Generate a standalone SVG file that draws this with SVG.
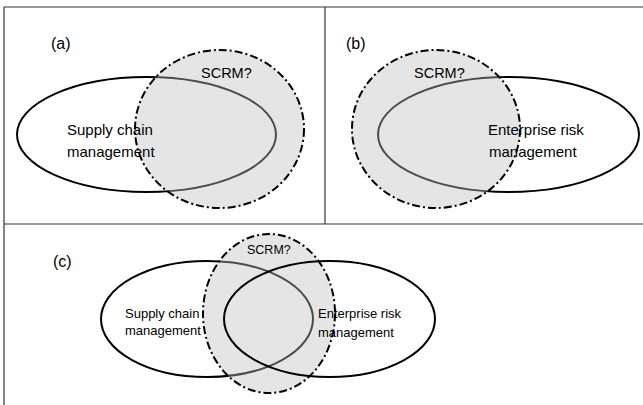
<svg xmlns="http://www.w3.org/2000/svg" width="643" height="405" viewBox="0 0 643 405">
<style>
.frame{stroke:#333;stroke-width:1.2;fill:none}
.ell{fill:none;stroke:#000;stroke-width:2}
.scrm{fill:#bfbfbf;fill-opacity:0.4;stroke:#000;stroke-width:2;stroke-dasharray:8 3 2 3}
.t{font-family:"Liberation Sans",Arial,sans-serif;fill:#000}
.lab{font-size:16px}
.big{font-size:15px}
.mid{font-size:14.5px}
.sm{font-size:13px}
.xs{font-size:12.5px}
</style>
<rect width="643" height="405" fill="#fff"/>
<g id="frame">
<line class="frame" x1="4" y1="7" x2="643" y2="7"/>
<line class="frame" x1="4" y1="7" x2="4" y2="405"/>
<line class="frame" x1="325" y1="7" x2="325" y2="224"/>
<line class="frame" x1="4" y1="224" x2="643" y2="224"/>
</g>
<g id="panel-a">
<g id="a-scm"><ellipse class="ell" cx="146.5" cy="134.5" rx="129.5" ry="57.5"/></g>
<g id="a-scrm"><ellipse class="scrm" cx="219.5" cy="129" rx="84.5" ry="79"/></g>
<text class="t lab" x="51" y="49">(a)</text>
<text class="t mid" x="201" y="78">SCRM?</text>
<text class="t big" x="67" y="135">Supply chain</text>
<text class="t big" x="67" y="157">management</text>
</g>
<g id="panel-b">
<g id="b-erm"><ellipse class="ell" cx="508.5" cy="134.5" rx="130.5" ry="57.5"/></g>
<g id="b-scrm"><ellipse class="scrm" cx="436" cy="129" rx="84" ry="79"/></g>
<text class="t lab" x="346" y="49">(b)</text>
<text class="t mid" x="414" y="78">SCRM?</text>
<text class="t big" x="488" y="135">Enterprise risk</text>
<text class="t big" x="489" y="157">management</text>
</g>
<g id="panel-c">
<g id="c-scm"><ellipse class="ell" cx="207" cy="319" rx="106" ry="58"/></g>
<g id="c-scrm"><ellipse class="scrm" cx="269" cy="313.5" rx="66" ry="79.5"/></g>
<g id="c-erm"><ellipse class="ell" cx="329.5" cy="319" rx="105.5" ry="58"/></g>
<text class="t lab" x="53" y="267">(c)</text>
<text class="t xs" x="247" y="254">SCRM?</text>
<text class="t sm" x="125" y="318">Supply chain</text>
<text class="t sm" x="125" y="335">management</text>
<text class="t sm" x="318" y="318">Enterprise risk</text>
<text class="t sm" x="318" y="337">management</text>
</g>
</svg>
